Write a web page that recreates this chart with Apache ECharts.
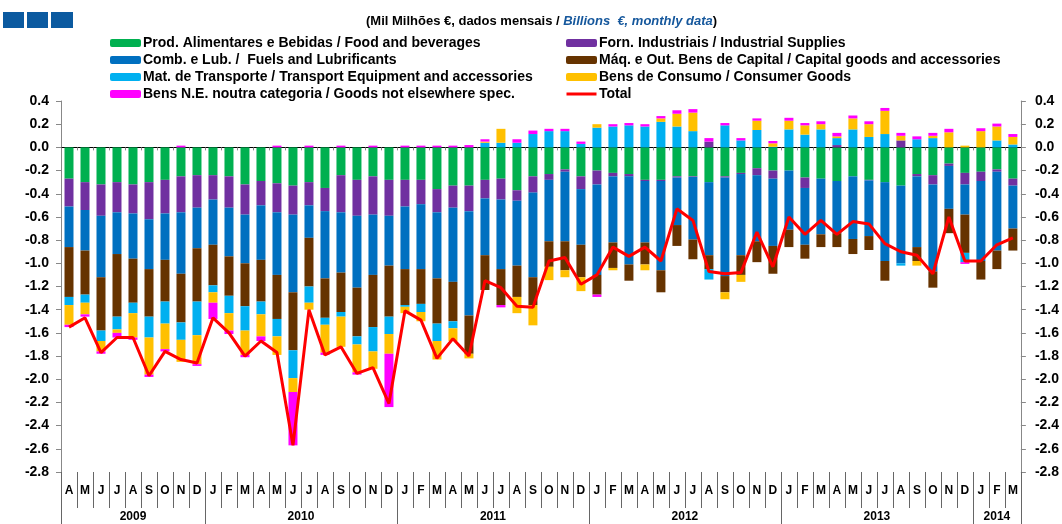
<!DOCTYPE html>
<html>
<head>
<meta charset="utf-8">
<script src="https://cdn.jsdelivr.net/npm/echarts@6/dist/echarts.min.js"></script>
<style>
html,body{margin:0;padding:0;background:#fff;}
#chart{width:1062px;height:524px;}
</style>
</head>
<body>
<div id="chart"></div>
<script>
// Months (first letter) and years
const monthLetters = ['A','M','J','J','A','S','O','N','D',
  'J','F','M','A','M','J','J','A','S','O','N','D',
  'J','F','M','A','M','J','J','A','S','O','N','D',
  'J','F','M','A','M','J','J','A','S','O','N','D',
  'J','F','M','A','M','J','J','A','S','O','N','D',
  'J','F','M'];
const years = ['2009','2010','2011','2012','2013','2014'];
const monthsPerYear = [9,12,12,12,12,3];

// Billions €, monthly data
const food = [-0.27,-0.30,-0.32,-0.30,-0.32,-0.30,-0.28,-0.25,-0.24,-0.24,
 -0.25,-0.32,-0.29,-0.31,-0.33,-0.30,-0.35,-0.24,-0.28,-0.25,
 -0.28,-0.28,-0.28,-0.36,-0.33,-0.33,-0.28,-0.27,-0.37,-0.25,
 -0.23,-0.19,-0.25,-0.20,-0.22,-0.23,-0.28,-0.28,-0.25,-0.25,
 -0.30,-0.25,-0.22,-0.18,-0.20,-0.20,-0.26,-0.27,-0.29,-0.25,
 -0.28,-0.30,-0.33,-0.23,-0.24,-0.14,-0.22,-0.21,-0.19,-0.27];
const industrial = [-0.24,-0.24,-0.27,-0.26,-0.25,-0.32,-0.29,-0.31,-0.28,-0.21,
 -0.27,-0.26,-0.21,-0.25,-0.25,-0.20,-0.20,-0.32,-0.31,-0.33,
 -0.31,-0.23,-0.21,-0.20,-0.19,-0.22,-0.16,-0.18,-0.09,-0.14,
 -0.05,-0.02,-0.11,-0.12,-0.03,-0.02,-0.01,-0.01,-0.01,-0.005,
 0.05,-0.01,-0.01,-0.06,-0.07,0,-0.09,0,0.02,0,
 -0.005,0,0.06,-0.02,-0.08,-0.02,-0.10,-0.08,-0.02,-0.06];
const fuels = [-0.35,-0.35,-0.53,-0.36,-0.39,-0.43,-0.40,-0.53,-0.35,-0.39,
 -0.42,-0.42,-0.47,-0.54,-0.67,-0.28,-0.58,-0.52,-0.62,-0.52,
 -0.43,-0.54,-0.56,-0.57,-0.64,-0.90,-0.49,-0.60,-0.56,-0.73,
 -0.53,-0.60,-0.48,-0.78,-0.57,-0.76,-0.53,-0.77,-0.41,-0.54,
 -0.63,-0.85,-0.70,-0.57,-0.58,-0.51,-0.49,-0.48,-0.45,-0.54,
 -0.48,-0.68,-0.67,-0.61,-0.75,-0.37,-0.26,-0.69,-0.68,-0.37];
const capital = [-0.43,-0.38,-0.46,-0.54,-0.38,-0.41,-0.36,-0.42,-0.46,-0.35,
 -0.34,-0.37,-0.36,-0.38,-0.50,-0.42,-0.34,-0.34,-0.42,-0.45,
 -0.44,-0.31,-0.30,-0.39,-0.34,-0.33,-0.30,-0.31,-0.27,-0.24,
 -0.22,-0.25,-0.28,-0.17,-0.22,-0.14,-0.19,-0.19,-0.18,-0.17,
 -0.12,-0.14,-0.17,-0.18,-0.24,-0.15,-0.12,-0.11,-0.12,-0.13,
 -0.12,-0.17,0,-0.12,-0.14,-0.21,-0.33,-0.16,-0.16,-0.19];
const transport = [-0.07,-0.07,-0.09,-0.11,-0.09,-0.18,-0.19,-0.15,-0.29,-0.06,
 -0.15,-0.21,-0.11,-0.15,-0.24,-0.14,-0.06,-0.04,-0.07,-0.21,
 -0.15,-0.015,-0.07,-0.15,-0.06,0,0.04,0.04,0.04,0.115,
 0.14,0.14,0.03,0.17,0.18,0.19,0.18,0.22,0.18,0.14,
 -0.09,0.19,0.06,0.15,0.005,0.155,0.11,0.155,0.06,0.155,
 0.09,0.115,-0.02,0.07,0.08,0,-0.08,0,0.06,0.025];
const consumer = [-0.17,-0.10,-0.09,-0.03,-0.21,-0.32,-0.22,-0.19,-0.25,-0.09,
 -0.15,-0.21,-0.19,-0.16,-0.12,-0.06,-0.24,-0.26,-0.24,-0.15,
 -0.17,-0.055,-0.08,-0.16,-0.11,-0.04,0.01,0.12,-0.14,-0.175,
 -0.115,-0.06,-0.12,0.03,-0.02,0,-0.05,0.03,0.11,0.16,
 0,-0.06,-0.06,0.08,0.03,0.075,0.08,0.045,0.015,0.095,
 0.11,0.2,0.04,-0.04,0.02,0.13,0.015,0.14,0.12,0.065];
const notElsewhere = [-0.02,-0.02,-0.02,-0.04,-0.02,-0.02,-0.02,0.015,-0.015,-0.14,
 -0.03,-0.02,-0.04,0.015,-0.46,0.015,-0.02,0.015,-0.02,0.015,
 -0.46,0.015,0.015,0.015,0.015,0.02,0.02,-0.02,0.03,0.03,
 0.02,0.02,0.02,-0.02,0.02,0.02,0.02,0.02,0.03,0.03,
 0.03,0.02,0.02,0.02,0.02,0.025,0.02,0.025,0.03,0.025,
 0.025,0.025,0.025,0.025,0.025,0.03,-0.015,0.025,0.025,0.025];
const total = [-1.55,-1.47,-1.77,-1.64,-1.64,-1.97,-1.76,-1.83,-1.86,-1.47,
 -1.60,-1.80,-1.67,-1.77,-2.57,-1.40,-1.79,-1.72,-1.95,-1.90,
 -2.21,-1.41,-1.49,-1.82,-1.65,-1.80,-1.15,-1.21,-1.37,-1.38,
 -0.98,-0.95,-1.18,-1.10,-0.86,-0.94,-0.86,-0.98,-0.53,-0.63,
 -1.07,-1.09,-1.08,-0.73,-1.03,-0.60,-0.75,-0.63,-0.75,-0.64,
 -0.66,-0.83,-0.90,-0.93,-1.09,-0.60,-0.98,-0.98,-0.84,-0.78];

const names = {
  food: 'Prod. Alimentares e Bebidas / Food and beverages',
  industrial: 'Forn. Industriais / Industrial Supplies',
  fuels: 'Comb. e Lub. /  Fuels and Lubrificants',
  capital: 'Máq. e Out. Bens de Capital / Capital goods and accessories',
  transport: 'Mat. de Transporte / Transport Equipment and accessories',
  consumer: 'Bens de Consumo / Consumer Goods',
  ne: 'Bens N.E. noutra categoria / Goods not elsewhere spec.',
  total: 'Total'
};

// year boundaries / centers on a 0..N scale
const yearBounds = [0];
monthsPerYear.forEach((n, i) => yearBounds.push(yearBounds[i] + n));
const yearCenters = monthsPerYear.map((n, i) => yearBounds[i] + n / 2);
const N = monthLetters.length;

const FONT = "'Liberation Sans', Arial, sans-serif";
const chart = echarts.init(document.getElementById('chart'), null, {renderer: 'canvas'});

function bar(name, data, color) {
  return {
    name, type: 'bar', stack: 'all', data, barWidth: 9,
    itemStyle: {color}, xAxisIndex: 0, yAxisIndex: 0
  };
}

const legendText = {fontFamily: FONT, fontSize: 14, fontWeight: 'bold', color: '#000', lineHeight: 14, padding: [0,0,0,-3]};
const lineIcon = 'path://M0,0L0.01,0L0.01,0.01Z M0,2.6L30,2.6L30,5.4L0,5.4Z M0,8L0.01,8L0.01,7.99Z';

const option = {
  animation: false,
  backgroundColor: '#ffffff',
  textStyle: {fontFamily: FONT},
  title: {
    text: '{a|(Mil Milhões €, dados mensais / }{b|Billions  €, monthly data}{a|)}',
    left: 361, top: 10,
    textStyle: {
      rich: {
        a: {fontFamily: FONT, fontSize: 13, fontWeight: 'bold', color: '#000'},
        b: {fontFamily: FONT, fontSize: 13, fontWeight: 'bold', fontStyle: 'italic', color: '#15579c'}
      }
    }
  },
  graphic: [
    {type: 'rect', left: 3, top: 12, shape: {width: 21, height: 16}, style: {fill: '#0b5aa0'}},
    {type: 'rect', left: 27, top: 12, shape: {width: 21, height: 16}, style: {fill: '#0b5aa0'}},
    {type: 'rect', left: 51, top: 12, shape: {width: 22, height: 16}, style: {fill: '#0b5aa0'}}
  ],
  legend: [
    {
      data: [names.food, names.fuels, names.transport, names.ne],
      orient: 'vertical', left: 105, top: 31, itemGap: 3,
      itemWidth: 31, itemHeight: 8,
      textStyle: legendText
    },
    {
      data: [names.industrial, names.capital, names.consumer, {name: names.total, icon: lineIcon}],
      orient: 'vertical', left: 561, top: 31, itemGap: 3,
      itemWidth: 31, itemHeight: 8,
      textStyle: legendText
    }
  ],
  grid: {left: 61, right: 40, top: 101, bottom: 52, containLabel: false},
  xAxis: [
    {
      type: 'category', data: monthLetters, position: 'bottom',
      boundaryGap: true,
      axisLine: {show: false, onZero: false},
      axisTick: {show: true, interval: 0, length: 36, lineStyle: {color: '#666', width: 1}},
      axisLabel: {interval: 0, margin: 13, fontFamily: FONT, fontSize: 12, fontWeight: 'bold', color: '#000'},
      splitLine: {show: false}
    },
    {
      type: 'value', min: 0, max: N, position: 'bottom',
      axisLine: {show: false, onZero: false},
      axisTick: {show: true, customValues: yearBounds, length: 52, lineStyle: {color: '#666', width: 1}},
      axisLabel: {
        customValues: yearCenters, margin: 39,
        fontFamily: FONT, fontSize: 12, fontWeight: 'bold', color: '#000',
        formatter: v => {
          const i = yearCenters.findIndex(c => Math.abs(c - v) < 1e-6);
          return i >= 0 ? years[i] : '';
        }
      },
      splitLine: {show: false}
    },
    {
      type: 'category', data: monthLetters, position: 'bottom',
      boundaryGap: true,
      axisLine: {show: true, onZero: true, onZeroAxisIndex: 0, lineStyle: {color: '#000', width: 1}},
      axisTick: {show: true, interval: 0, length: 3, lineStyle: {color: '#888'}},
      axisLabel: {show: false},
      splitLine: {show: false}
    }
  ],
  yAxis: [
    {
      type: 'value', min: -2.8, max: 0.4, interval: 0.2, position: 'left',
      axisLine: {show: true, lineStyle: {color: '#888', width: 1}},
      axisTick: {show: true, length: 5, lineStyle: {color: '#888'}},
      axisLabel: {margin: 12, fontFamily: FONT, fontSize: 14, fontWeight: 'bold', color: '#000',
        formatter: v => (Math.abs(v) < 1e-9 ? 0 : v).toFixed(1)},
      splitLine: {show: false}
    },
    {
      type: 'value', min: -2.8, max: 0.4, interval: 0.2, position: 'right',
      axisLine: {show: true, lineStyle: {color: '#888', width: 1}},
      axisTick: {show: true, length: 5, lineStyle: {color: '#888'}},
      axisLabel: {margin: 14, fontFamily: FONT, fontSize: 14, fontWeight: 'bold', color: '#000',
        formatter: v => (Math.abs(v) < 1e-9 ? 0 : v).toFixed(1)},
      splitLine: {show: false}
    }
  ],
  series: [
    bar(names.food, food, '#00b050'),
    bar(names.industrial, industrial, '#7030a0'),
    bar(names.fuels, fuels, '#0070c0'),
    bar(names.capital, capital, '#663300'),
    bar(names.transport, transport, '#00b0f0'),
    bar(names.consumer, consumer, '#ffc000'),
    bar(names.ne, notElsewhere, '#ff00ff'),
    {
      name: names.total, type: 'line', data: total, xAxisIndex: 0, yAxisIndex: 0,
      symbol: 'none', showSymbol: false, z: 5,
      lineStyle: {color: '#ff0000', width: 3}, itemStyle: {color: '#ff0000'}
    }
  ]
};
chart.setOption(option);
</script>
</body>
</html>
